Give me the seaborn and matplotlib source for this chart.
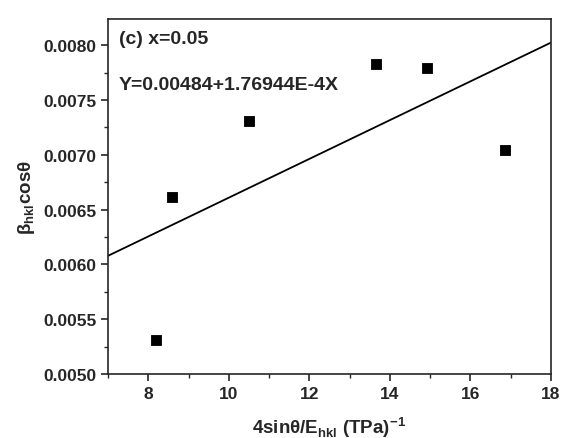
import numpy as np
import pandas as pd
import matplotlib
matplotlib.use("Agg")
import matplotlib.pyplot as plt
import seaborn as sns
from matplotlib.ticker import MultipleLocator

# data
x_vals = [8.2, 8.6, 10.5, 13.65, 14.92, 16.85]
y_vals = [0.00531, 0.00662, 0.00731, 0.00783, 0.00779, 0.00704]
intercept = 0.00484
slope = 1.76944e-4

sns.set_style("ticks")
plt.rcParams['font.family'] = ['Liberation Sans', 'DejaVu Sans']
plt.rcParams['font.weight'] = 'bold'
plt.rcParams['mathtext.fontset'] = 'custom'
plt.rcParams['mathtext.rm'] = 'Liberation Sans:bold'
plt.rcParams['mathtext.bf'] = 'Liberation Sans:bold'

data = pd.DataFrame({'x': x_vals, 'y': y_vals})

fig = plt.figure(figsize=(5.73, 4.39), dpi=100)
ax = fig.add_axes([0.1885, 0.1458, 0.7731, 0.8086])

fit_x = np.array([7, 18])
fit = pd.DataFrame({'x': fit_x, 'y': intercept + slope * fit_x})
sns.lineplot(data=fit, x='x', y='y', ax=ax, color='black', linewidth=1.3)
sns.scatterplot(data=data, x='x', y='y', ax=ax, marker='s', s=60,
                color='black', edgecolor='black', zorder=3)

ax.set_xlim(7, 18)
ax.set_ylim(0.0050, 0.00824)
ax.xaxis.set_major_locator(MultipleLocator(2))
ax.xaxis.set_minor_locator(MultipleLocator(1))
ax.yaxis.set_major_locator(MultipleLocator(0.0005))
ax.yaxis.set_minor_locator(MultipleLocator(0.00025))
ax.yaxis.set_major_formatter(plt.FormatStrFormatter('%.4f'))
ax.tick_params(which='major', direction='out', length=5, width=1.2, labelsize=12.5)
ax.tick_params(which='minor', direction='out', length=3, width=1.0)
for s in ax.spines.values():
    s.set_visible(True)
    s.set_linewidth(1.2)

ax.set_xlabel('4sinθ/E$_{\\mathrm{hkl}}$ (TPa)$^{\\mathrm{-1}}$', fontsize=13.5,
              fontweight='bold', labelpad=10)
ax.set_ylabel('β$_{\\mathrm{hkl}}$cosθ', fontsize=13.5,
              fontweight='bold', labelpad=4)

ax.text(0.025, 0.968, '(c) x=0.05', transform=ax.transAxes, fontsize=14,
        fontweight='bold', va='top')
ax.text(0.025, 0.84, 'Y=0.00484+1.76944E-4X', transform=ax.transAxes,
        fontsize=14, fontweight='bold', va='top')

fig.savefig('out.png', dpi=100)
